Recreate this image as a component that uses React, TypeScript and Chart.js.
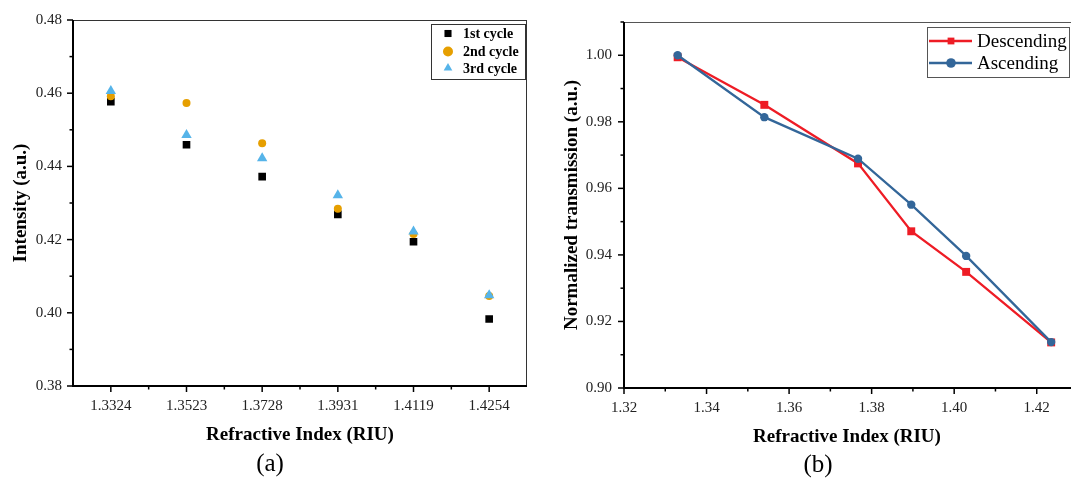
import React, { useEffect, useRef } from 'react';
import { Chart, registerables } from 'chart.js';

Chart.register(...registerables);

// ---------- data: panel (a) ----------
const riCategories = ['1.3324', '1.3523', '1.3728', '1.3931', '1.4119', '1.4254'];
const cycle1 = [0.4577, 0.4459, 0.4372, 0.4269, 0.4194, 0.3983];
const cycle2 = [0.4592, 0.4573, 0.4463, 0.4284, 0.4215, 0.4046];
const cycle3 = [0.4606, 0.4486, 0.4422, 0.4321, 0.4222, 0.4048];
const intensityTicks = [0.38, 0.4, 0.42, 0.44, 0.46, 0.48];
const intensityMinor = [0.39, 0.41, 0.43, 0.45, 0.47];

// ---------- data: panel (b) ----------
const riB = [1.333, 1.354, 1.3767, 1.3896, 1.4029, 1.4235];
const descending = [0.9994, 0.9851, 0.9675, 0.9471, 0.9349, 0.9137];
const ascending = [1.0, 0.9814, 0.9689, 0.9551, 0.9397, 0.9138];
const transTicks = [0.9, 0.92, 0.94, 0.96, 0.98, 1.0];
const transMinor = [0.91, 0.93, 0.95, 0.97, 0.99, 1.01];
const riTicksB = [1.32, 1.34, 1.36, 1.38, 1.4, 1.42];
const riMinorB = [1.33, 1.35, 1.37, 1.39, 1.41, 1.43];

const SERIF = '"Liberation Serif", "Times New Roman", serif';

function drawMarker(ctx: CanvasRenderingContext2D, style: string, cx: number, cy: number, r: number, color: string) {
  ctx.fillStyle = color;
  ctx.beginPath();
  if (style === 'rect') {
    const s = r * Math.SQRT1_2;
    ctx.rect(cx - s, cy - s, 2 * s, 2 * s);
  } else if (style === 'triangle') {
    const a = (2 * Math.PI) / 3;
    ctx.moveTo(cx, cy - r);
    ctx.lineTo(cx + r * Math.sin(a), cy - r * Math.cos(a));
    ctx.lineTo(cx - r * Math.sin(a), cy - r * Math.cos(a));
    ctx.closePath();
  } else {
    ctx.arc(cx, cy, r, 0, Math.PI * 2);
  }
  ctx.fill();
}

const decor = {
  id: 'decor',
  afterDraw(chart: any, _args: any, o: any) {
    const { ctx, chartArea: a } = chart;
    const xs = chart.scales.x;
    const ys = chart.scales.y;
    const seg = (x1: number, y1: number, x2: number, y2: number) => {
      ctx.beginPath();
      ctx.moveTo(x1, y1);
      ctx.lineTo(x2, y2);
      ctx.stroke();
    };
    ctx.save();
    // frame
    ctx.strokeStyle = o.frameColor;
    ctx.lineWidth = 1;
    seg(a.left, a.top + 0.5, a.right, a.top + 0.5);
    seg(a.right - 0.5, a.top, a.right - 0.5, a.bottom);
    // axes
    ctx.strokeStyle = '#000';
    ctx.lineWidth = 2;
    seg(a.left, a.top, a.left, a.bottom + 1);
    seg(a.left - 1, a.bottom, a.right, a.bottom);
    // ticks
    ctx.lineWidth = 1.5;
    o.yMajor.forEach((v: number) => {
      const p = ys.getPixelForValue(v);
      seg(a.left - 6, p, a.left, p);
    });
    o.yMinor.forEach((v: number) => {
      const p = ys.getPixelForValue(v);
      seg(a.left - 3.5, p, a.left, p);
    });
    o.xMajor.forEach((v: number) => {
      const p = xs.getPixelForValue(v);
      seg(p, a.bottom, p, a.bottom + 6);
    });
    o.xMinor.forEach((v: number) => {
      const p = xs.getPixelForValue(v);
      seg(p, a.bottom, p, a.bottom + 3.5);
    });
    // titles
    ctx.fillStyle = '#000';
    ctx.textAlign = 'center';
    ctx.textBaseline = 'middle';
    ctx.font = `bold 19px ${SERIF}`;
    ctx.fillText(o.xTitle, o.xTitleX, o.xTitleY);
    ctx.save();
    ctx.translate(o.yTitleX, o.yTitleY);
    ctx.rotate(-Math.PI / 2);
    ctx.fillText(o.yTitle, 0, 0);
    ctx.restore();
    ctx.font = `25px ${SERIF}`;
    ctx.fillText(o.caption, o.captionX, o.captionY);
    // legend
    const L = o.legend;
    ctx.fillStyle = '#fff';
    ctx.fillRect(L.x, L.y, L.w, L.h);
    ctx.strokeStyle = L.border;
    ctx.lineWidth = 1;
    ctx.strokeRect(L.x + 0.5, L.y + 0.5, L.w, L.h);
    ctx.font = L.font;
    ctx.textAlign = 'left';
    chart.data.datasets.forEach((ds: any, i: number) => {
      const yy = L.rows[i];
      if (L.lineFrom !== undefined) {
        ctx.strokeStyle = ds.borderColor;
        ctx.lineWidth = ds.borderWidth;
        seg(L.lineFrom, yy, L.lineTo, yy);
      }
      drawMarker(ctx, ds.pointStyle, L.markerX, yy, L.markerR, ds.pointBackgroundColor);
      ctx.fillStyle = '#000';
      ctx.fillText(ds.label, L.textX, yy + 1);
    });
    ctx.restore();
  },
};

const tickFont = { family: SERIF, size: 15 };

function leftConfig(): any {
  return {
    type: 'line',
    data: {
      labels: riCategories,
      datasets: [
        { label: '1st cycle', data: cycle1, showLine: false, pointStyle: 'rect', pointRadius: 5.4, pointBackgroundColor: '#000000', pointBorderColor: '#000000', pointBorderWidth: 0, order: 2 },
        { label: '2nd cycle', data: cycle2, showLine: false, pointStyle: 'circle', pointRadius: 4, pointBackgroundColor: '#E69F00', pointBorderColor: '#E69F00', pointBorderWidth: 0, order: 1 },
        { label: '3rd cycle', data: cycle3, showLine: false, pointStyle: 'triangle', pointRadius: 6, pointBackgroundColor: '#56B4E9', pointBorderColor: '#56B4E9', pointBorderWidth: 0, order: 0 },
      ],
    },
    options: {
      responsive: false,
      animation: false,
      events: [],
      devicePixelRatio: 1,
      layout: { padding: { left: 0, top: 20, right: 13, bottom: 0 } },
      plugins: {
        legend: { display: false },
        tooltip: { enabled: false },
        decor: {
          frameColor: '#333',
          yMajor: intensityTicks,
          yMinor: intensityMinor,
          xMajor: [0, 1, 2, 3, 4, 5],
          xMinor: [0.5, 1.5, 2.5, 3.5, 4.5],
          xTitle: 'Refractive Index (RIU)',
          xTitleX: 300,
          xTitleY: 435,
          yTitle: 'Intensity (a.u.)',
          yTitleX: 21,
          yTitleY: 203,
          caption: '(a)',
          captionX: 270,
          captionY: 464,
          legend: { x: 431, y: 24, w: 94, h: 55, border: '#333', font: `bold 14px ${SERIF}`, rows: [33.5, 51.5, 68], markerX: 448, markerR: 5, textX: 463 },
        },
      },
      scales: {
        x: {
          type: 'category',
          offset: true,
          grid: { display: false, drawTicks: false, offset: true },
          border: { display: false },
          ticks: { font: tickFont, color: '#222', padding: 11, autoSkip: false, maxRotation: 0 },
          afterFit: (s: any) => { s.height = 94; s.paddingLeft = 0; s.paddingRight = 0; },
        },
        y: {
          type: 'linear',
          min: 0.38,
          max: 0.48,
          grid: { display: false, drawTicks: false },
          border: { display: false },
          afterBuildTicks: (s: any) => { s.ticks = intensityTicks.map((v) => ({ value: v })); },
          ticks: { font: tickFont, color: '#222', padding: 11, callback: (v: any) => Number(v).toFixed(2) },
          afterFit: (s: any) => { s.width = 73; s.paddingTop = 0; s.paddingBottom = 0; },
        },
      },
    },
    plugins: [decor],
  };
}

function rightConfig(): any {
  return {
    type: 'line',
    data: {
      datasets: [
        { label: 'Descending', data: riB.map((x, i) => ({ x, y: descending[i] })), borderColor: '#EE1C25', borderWidth: 2.3, pointStyle: 'rect', pointRadius: 5.6, pointBackgroundColor: '#EE1C25', pointBorderColor: '#EE1C25', pointBorderWidth: 0, tension: 0, order: 1 },
        { label: 'Ascending', data: riB.map((x, i) => ({ x, y: ascending[i] })), borderColor: '#336699', borderWidth: 2.3, pointStyle: 'circle', pointRadius: 4.2, pointBackgroundColor: '#336699', pointBorderColor: '#336699', pointBorderWidth: 0, tension: 0, order: 0 },
      ],
    },
    options: {
      responsive: false,
      animation: false,
      events: [],
      devicePixelRatio: 1,
      layout: { padding: { left: 0, top: 22, right: 22, bottom: 0 } },
      plugins: {
        legend: { display: false },
        tooltip: { enabled: false },
        decor: {
          frameColor: '#555',
          yMajor: transTicks,
          yMinor: transMinor,
          xMajor: riTicksB,
          xMinor: riMinorB,
          xTitle: 'Refractive Index (RIU)',
          xTitleX: 307,
          xTitleY: 437,
          yTitle: 'Normalized transmission (a.u.)',
          yTitleX: 32,
          yTitleY: 205,
          caption: '(b)',
          captionX: 278,
          captionY: 465,
          legend: { x: 387, y: 27, w: 142, h: 50, border: '#555', font: `19px ${SERIF}`, rows: [41, 63], lineFrom: 389, lineTo: 432, markerX: 411, markerR: 4.8, textX: 437 },
        },
      },
      scales: {
        x: {
          type: 'linear',
          min: 1.32,
          max: 1.43,
          grid: { display: false, drawTicks: false },
          border: { display: false },
          afterBuildTicks: (s: any) => { s.ticks = riTicksB.map((v) => ({ value: v })); },
          ticks: { font: tickFont, color: '#222', padding: 11, maxRotation: 0, callback: (v: any) => Number(v).toFixed(2) },
          afterFit: (s: any) => { s.height = 92; s.paddingLeft = 0; s.paddingRight = 0; },
        },
        y: {
          type: 'linear',
          min: 0.9,
          max: 1.01,
          grid: { display: false, drawTicks: false },
          border: { display: false },
          afterBuildTicks: (s: any) => { s.ticks = transTicks.map((v) => ({ value: v })); },
          ticks: { font: tickFont, color: '#222', padding: 12, callback: (v: any) => Number(v).toFixed(2) },
          afterFit: (s: any) => { s.width = 84; s.paddingTop = 0; s.paddingBottom = 0; },
        },
      },
    },
    plugins: [decor],
  };
}

export default function App() {
  const leftRef = useRef<HTMLCanvasElement>(null);
  const rightRef = useRef<HTMLCanvasElement>(null);
  useEffect(() => {
    const c1 = new Chart(leftRef.current as HTMLCanvasElement, leftConfig());
    const c2 = new Chart(rightRef.current as HTMLCanvasElement, rightConfig());
    return () => {
      c1.destroy();
      c2.destroy();
    };
  }, []);
  return (
    <div style={{ position: 'fixed', left: 0, top: 0, width: 1071, height: 480, overflow: 'hidden', background: '#fff' }}>
      <canvas ref={leftRef} width={540} height={480} style={{ position: 'absolute', left: 0, top: 0, width: 540, height: 480 }} />
      <canvas ref={rightRef} width={560} height={480} style={{ position: 'absolute', left: 540, top: 0, width: 560, height: 480 }} />
    </div>
  );
}
